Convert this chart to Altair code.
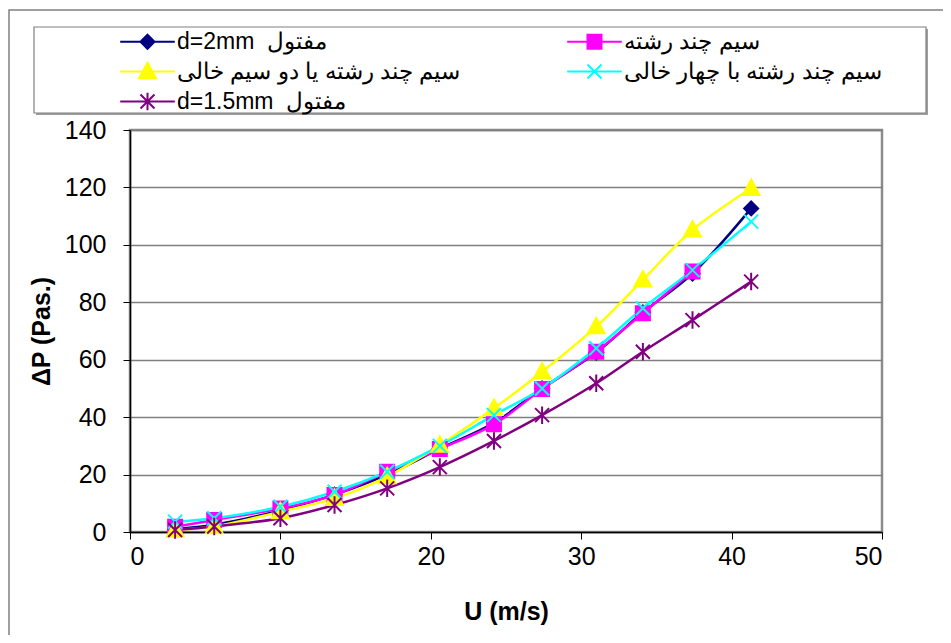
import altair as alt
import pandas as pd

# ---- data ----
u_vals = [3.0, 5.6, 10.0, 13.6, 17.1, 20.6, 24.2, 27.4, 31.0, 34.1, 37.4, 41.3]
dp_d2 = [1.0, 2.5, 7.5, 13.0, 20.0, 29.0, 38.0, 50.0, 62.5, 76.5, 90.0, 112.7]
dp_multi = [1.8, 4.2, 8.2, 12.9, 21.0, 28.9, 37.5, 49.8, 62.8, 76.2, 90.7]
dp_two = [0.7, 1.9, 7.1, 11.7, 19.3, 30.3, 43.1, 55.8, 71.5, 87.8, 105.2, 119.7]
dp_four = [3.6, 4.8, 8.8, 14.0, 21.0, 30.0, 40.7, 50.0, 64.0, 77.9, 91.2, 108.1]
dp_d15 = [0.7, 1.9, 4.8, 9.4, 15.2, 22.6, 31.7, 40.7, 51.8, 62.8, 73.8, 87.2]

series_names = [
    "d=2mm \u00a0مفتول",
    "سیم چند رشته",
    "سیم چند رشته یا دو سیم خالی",
    "سیم چند رشته با چهار خالی",
    "d=1.5mm \u00a0مفتول",
]
series_values = [dp_d2, dp_multi, dp_two, dp_four, dp_d15]
series_colors = ["#000080", "#FF00FF", "#FFFF00", "#00FFFF", "#800080"]

# marker paths (unit space)
markers = [
    "M0,-1L1,0L0,1L-1,0Z",
    "M-1,-1H1V1H-1Z",
    "M0,-1.25L1.2,0.95H-1.2Z",
    "M-1,-1L1,1M-1,1L1,-1",
    "M-1,-1L1,1M-1,1L1,-1M0,-1.25V1.25",
]
legend_shapes = ["M-3.9,0H3.9" + m for m in markers]

rows = []
for name, vals in zip(series_names, series_values):
    for x, y in zip(u_vals, vals):
        rows.append({"series": name, "U": x, "dP": y})
df = pd.DataFrame(rows)

color_scale = alt.Scale(domain=series_names, range=series_colors)
x_enc = alt.X("U:Q", scale=alt.Scale(domain=[0, 50], nice=False),
              axis=alt.Axis(values=[0, 10, 20, 30, 40, 50], title="U (m/s)", grid=False))
y_enc = alt.Y("dP:Q", scale=alt.Scale(domain=[0, 140], nice=False),
              axis=alt.Axis(values=[0, 20, 40, 60, 80, 100, 120, 140], title="ΔP (Pas.)", grid=True))

deco = pd.DataFrame({"k": [0]})
outer_frame = alt.Chart(deco).mark_rect(fill="transparent", stroke="#808080", strokeWidth=1.5).encode(
    x=alt.value(-121), x2=alt.value(950), y=alt.value(-120), y2=alt.value(700))
legend_shadow = alt.Chart(deco).mark_rect(fill="#a0a0a0").encode(
    x=alt.value(-94), x2=alt.value(798), y=alt.value(-101), y2=alt.value(-15))
legend_box = alt.Chart(deco).mark_rect(fill="white", stroke="#808080", strokeWidth=1.2).encode(
    x=alt.value(-96), x2=alt.value(796), y=alt.value(-103), y2=alt.value(-17))

lines = alt.Chart(df).mark_line(interpolate="catmull-rom", strokeWidth=2.5).encode(
    x=x_enc, y=y_enc,
    color=alt.Color("series:N", scale=color_scale, legend=None),
    order=alt.Order("U:Q"),
)

point_layers = []
for name, path in zip(series_names, markers):
    point_layers.append(
        alt.Chart(df).transform_filter(alt.datum.series == name).mark_point(
            shape=path, filled=False, opacity=1, strokeWidth=2, size=196
        ).encode(
            x="U:Q", y="dP:Q",
            color=alt.Color("series:N", scale=color_scale, legend=None),
            fill=alt.Fill("series:N", scale=color_scale, legend=None),
        )
    )

legend_layer = alt.Chart(df).transform_filter("false").mark_point(
    filled=False, opacity=1, strokeWidth=2, size=196
).encode(
    x="U:Q", y="dP:Q",
    color=alt.Color("series:N", scale=color_scale, legend=alt.Legend(title=None)),
    fill=alt.Fill("series:N", scale=color_scale, legend=alt.Legend(title=None)),
    shape=alt.Shape("series:N", scale=alt.Scale(domain=series_names, range=legend_shapes),
                    legend=alt.Legend(title=None)),
)

chart = alt.layer(outer_frame, legend_shadow, legend_box, lines, *point_layers, legend_layer).resolve_legend(
    color="independent", fill="independent", shape="independent"
).properties(
    width=752, height=402,
    autosize=alt.AutoSizeParams(type="none"),
    padding={"left": 122, "top": 122, "right": 61, "bottom": 103},
    background="white",
).configure_view(
    stroke="#8c8c8c", strokeWidth=2.5
).configure_axis(
    labelFont="Liberation Sans", labelFontSize=25, labelColor="black",
    titleFont="Liberation Sans", titleFontSize=25, titleFontWeight="bold", titleColor="black",
    domainColor="black", domainWidth=1.5, tickColor="black", tickWidth=1,
    gridColor="#7f7f7f", gridWidth=1.5,
).configure_axisX(
    tickSize=7, labelPadding=5, titlePadding=30,
).configure_axisY(
    tickSize=7, labelPadding=17, titlePadding=10,
).configure_legend(
    orient="none", legendX=-13, legendY=-100, columns=2, direction="horizontal",
    columnPadding=102, rowPadding=4,
    padding=0, symbolSize=196, symbolOffset=19, labelOffset=18, symbolStrokeWidth=2,
    labelFont="Liberation Sans", labelFontSize=23, labelColor="black", labelLimit=0,
)

chart.save("out.html", embed_options={"renderer": "svg", "actions": False})
